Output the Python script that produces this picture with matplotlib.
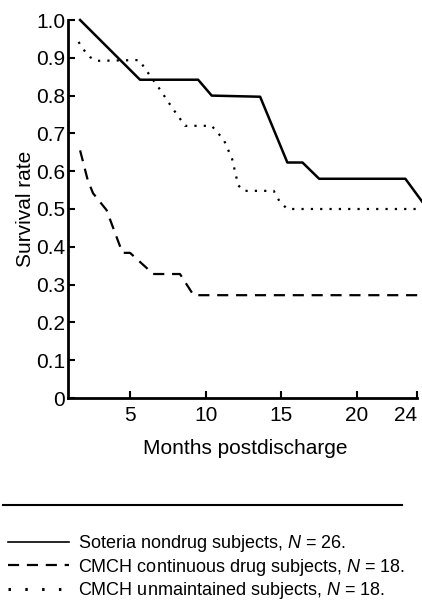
import matplotlib
matplotlib.use("Agg")
import matplotlib.pyplot as plt
from matplotlib.lines import Line2D

plt.rcParams['font.family'] = ['Liberation Sans', 'DejaVu Sans']
plt.rcParams['mathtext.fontset'] = 'custom'
plt.rcParams['mathtext.rm'] = 'Liberation Sans'
plt.rcParams['mathtext.it'] = 'Liberation Sans:italic'

# survival curves
soteria_months = [1.7, 5.66, 9.5, 10.4, 13.6, 15.4, 16.4, 17.5, 23.2, 24.3]
soteria_rate = [1.0, 0.842, 0.842, 0.80, 0.797, 0.623, 0.623, 0.58, 0.58, 0.52]

continuous_months = [1.7, 2.2, 2.55, 3.45, 4.5, 5.0, 6.1, 6.5, 8.3, 9.2, 24.3]
continuous_rate = [0.655, 0.577, 0.542, 0.497, 0.384, 0.384, 0.344, 0.328, 0.328, 0.272, 0.272]

unmaintained_months = [1.6, 1.9, 2.35, 2.8, 5.6, 6.3, 7.0, 7.8, 8.64, 10.4, 11.2,
                       11.75, 12.15, 12.5, 14.5, 14.9, 15.4, 24.3]
unmaintained_rate = [0.942, 0.923, 0.902, 0.892, 0.894, 0.854, 0.815, 0.767, 0.72, 0.72,
                     0.683, 0.632, 0.563, 0.548, 0.548, 0.519, 0.5, 0.5]

x_ticks = [5, 10, 15, 20, 24]
y_ticks = [0, 0.1, 0.2, 0.3, 0.4, 0.5, 0.6, 0.7, 0.8, 0.9, 1.0]
y_labels = ['0', '0.1', '0.2', '0.3', '0.4', '0.5', '0.6', '0.7', '0.8', '0.9', '1.0']

labels = ['Soteria nondrug subjects, $N$ = 26.',
          'CMCH continuous drug subjects, $N$ = 18.',
          'CMCH unmaintained subjects, $N$ = 18.']

W, H = 422, 605
fig = plt.figure(figsize=(W / 100, H / 100), dpi=100)
ax = fig.add_axes([68 / W, 1 - 398 / H, (W - 68) / W, (398 - 20) / H])

ax.plot(soteria_months, soteria_rate, color='black', lw=1.8, clip_on=False)
ax.plot(continuous_months, continuous_rate, color='black', lw=1.6,
        linestyle=(0, (5, 3.5)), clip_on=False)
ax.plot(unmaintained_months, unmaintained_rate, color='black', lw=1.6,
        linestyle=(0, (1, 3.2)), clip_on=False)

ax.set_xlim(0.9, 24.3)
ax.set_ylim(0, 1.0)
for s in ['top', 'right']:
    ax.spines[s].set_visible(False)
ax.spines['left'].set_linewidth(2)
ax.spines['bottom'].set_linewidth(2)
ax.spines['bottom'].set_bounds(0.9, 24)

ax.set_xticks(x_ticks)
ax.set_yticks(y_ticks)
ax.set_yticklabels(y_labels)
ax.tick_params(direction='in', length=5, width=1.5, labelsize=15)
ax.tick_params(axis='y', pad=2)
ax.tick_params(axis='x', pad=6)
# keep the last month label inside the picture
ax.get_xticklabels()[-1].set_horizontalalignment('right')

ax.set_xlabel('Months postdischarge', fontsize=15, labelpad=10)
ax.set_ylabel('Survival rate', fontsize=15, labelpad=1)

# separator rule above the key
fig.add_artist(Line2D([3 / W, 402 / W], [1 - 505 / H, 1 - 505 / H],
                      transform=fig.transFigure, color='black', lw=1.5))

handles = [Line2D([], [], color='black', lw=1.2),
           Line2D([], [], color='black', lw=1.6, linestyle=(0, (5, 3.5))),
           Line2D([], [], color='black', lw=2.2, linestyle=(0, (0.8, 4.7)))]
fig.legend(handles, labels, loc='upper left', bbox_to_anchor=(8 / W, 1 - 533 / H),
           frameon=False, fontsize=13, handlelength=3.4, handletextpad=0.45,
           labelspacing=0.15, borderpad=0, borderaxespad=0)

fig.savefig('out.png', dpi=100)
